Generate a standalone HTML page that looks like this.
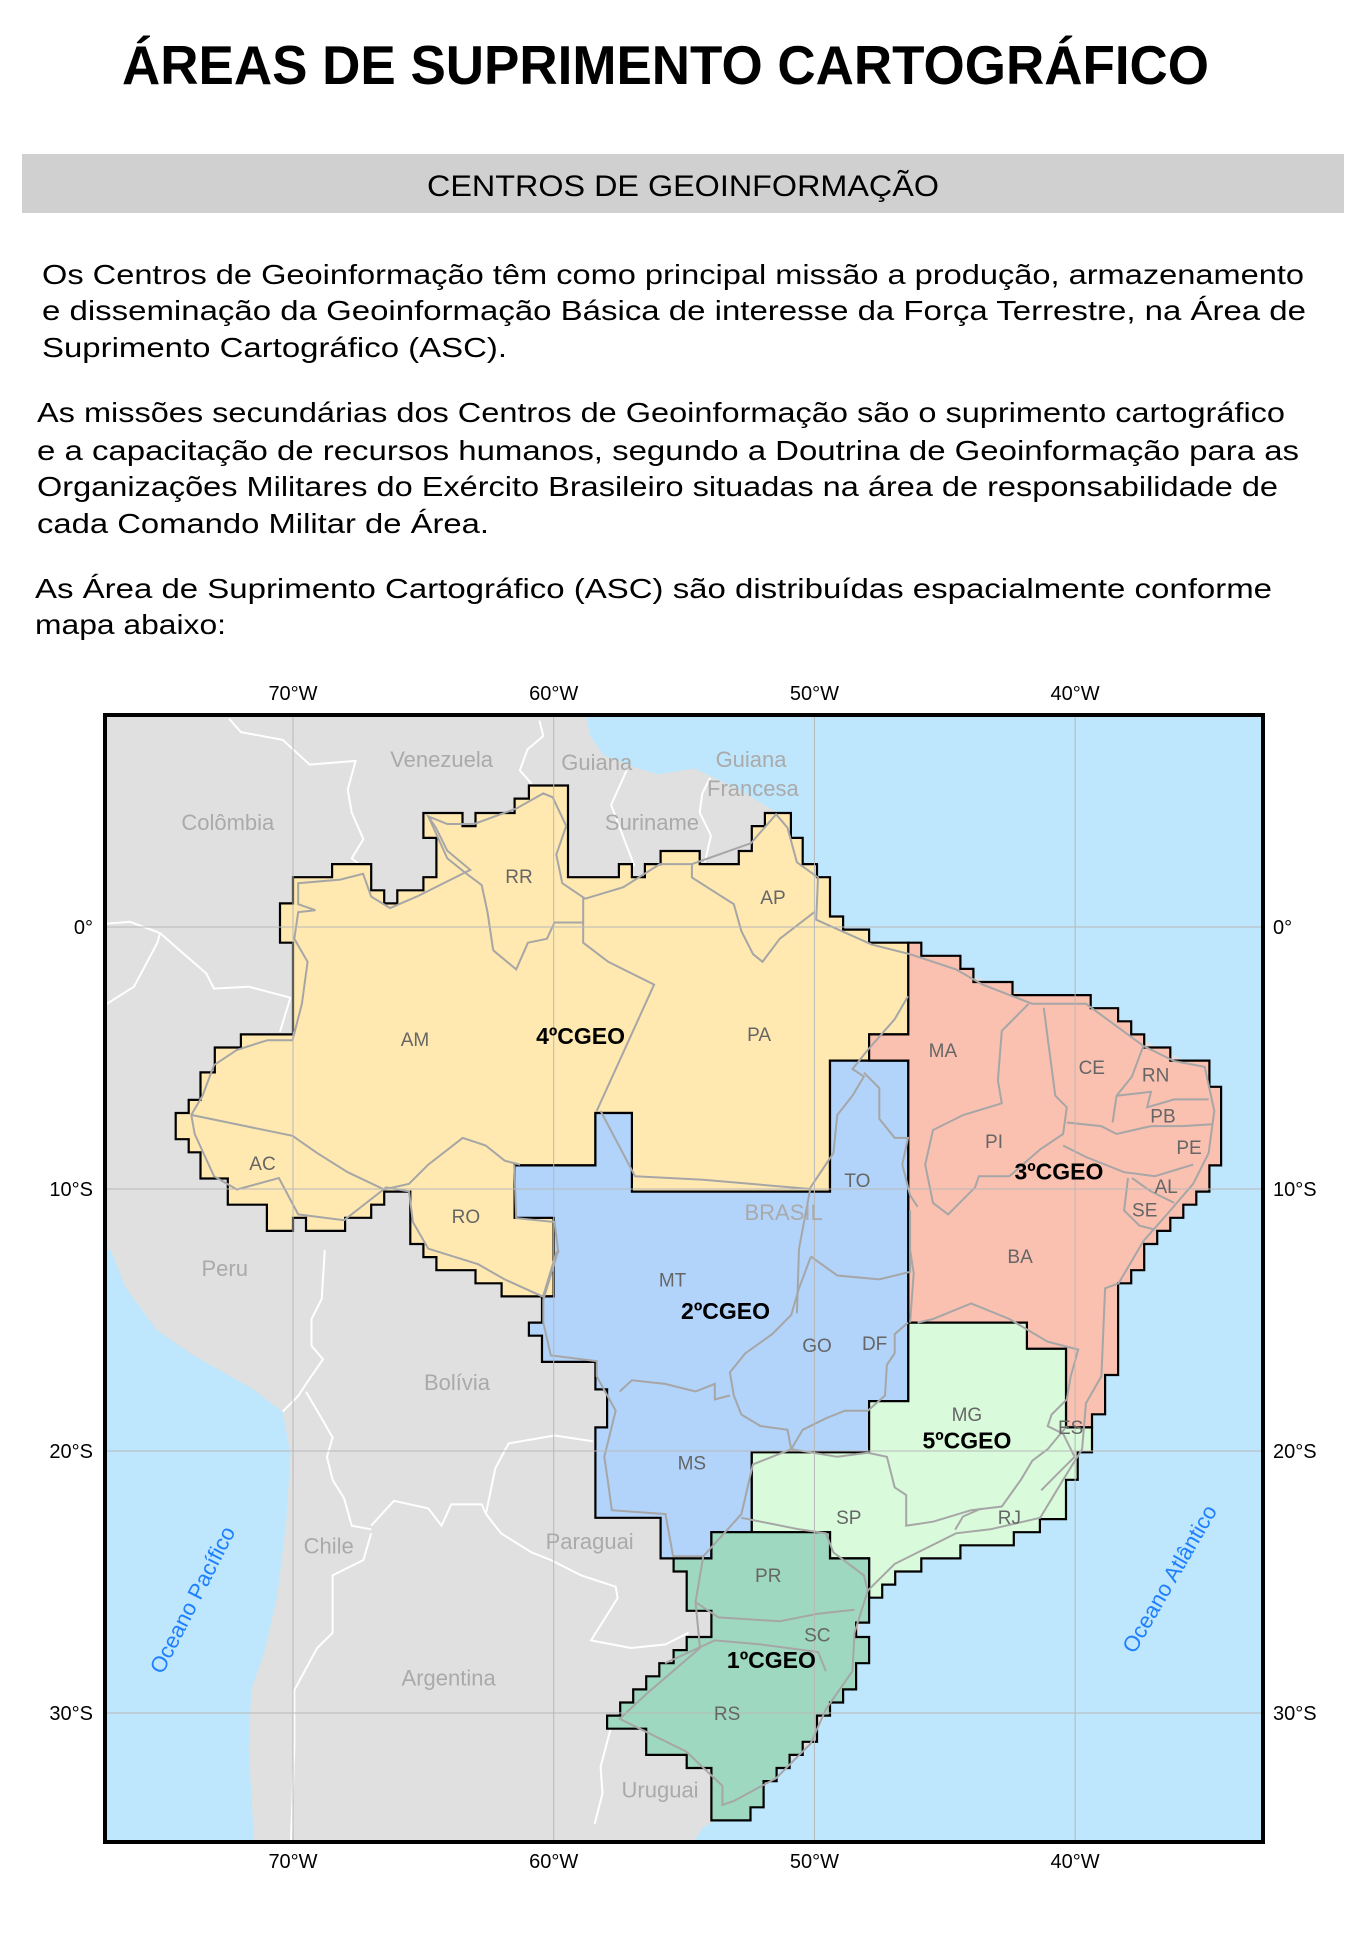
<!DOCTYPE html>
<html><head><meta charset="utf-8"><title>Áreas de Suprimento Cartográfico</title>
<style>html,body{margin:0;padding:0;background:#fff}svg{display:block}text{font-family:"Liberation Sans",Arial,sans-serif}</style>
</head><body>
<svg id="page" width="1360" height="1940" viewBox="0 0 1360 1940" xmlns="http://www.w3.org/2000/svg">
<text x="122" y="84" font-size="55" font-weight="bold" textLength="1087" lengthAdjust="spacingAndGlyphs">ÁREAS DE SUPRIMENTO CARTOGRÁFICO</text>
<rect x="22" y="154" width="1322" height="59" fill="#d0d0d0"/>
<text x="427" y="196" font-size="30" textLength="512" lengthAdjust="spacingAndGlyphs">CENTROS DE GEOINFORMAÇÃO</text>
<g font-size="28">
<text x="42" y="284" textLength="1262" lengthAdjust="spacingAndGlyphs">Os Centros de Geoinformação têm como principal missão a produção,  armazenamento</text>
<text x="42" y="320" textLength="1264" lengthAdjust="spacingAndGlyphs">e disseminação da Geoinformação Básica de interesse da Força Terrestre, na   Área  de</text>
<text x="42" y="357" textLength="465" lengthAdjust="spacingAndGlyphs">Suprimento Cartográfico  (ASC).</text>
</g>
<g font-size="28">
<text x="37" y="422" textLength="1248" lengthAdjust="spacingAndGlyphs">As  missões secundárias dos Centros de Geoinformação são o suprimento cartográfico</text>
<text x="37" y="460" textLength="1262" lengthAdjust="spacingAndGlyphs">e a capacitação de  recursos  humanos, segundo a Doutrina de  Geoinformação para as</text>
<text x="37" y="496" textLength="1241" lengthAdjust="spacingAndGlyphs">Organizações Militares do Exército Brasileiro  situadas na área de responsabilidade de</text>
<text x="37" y="533" textLength="452" lengthAdjust="spacingAndGlyphs">cada  Comando Militar de Área.</text>
</g>
<g font-size="28">
<text x="35" y="598" textLength="1237" lengthAdjust="spacingAndGlyphs">As  Área de Suprimento  Cartográfico (ASC)  são distribuídas espacialmente conforme</text>
<text x="35" y="634" textLength="191" lengthAdjust="spacingAndGlyphs">mapa abaixo:</text>
</g>
<defs><clipPath id="mapclip"><rect x="105" y="715" width="1158" height="1127"/></clipPath></defs>
<g id="map">
<g id="mapbody" clip-path="url(#mapclip)"></g>
<g id="maplabels"></g>
<rect x="105" y="715" width="1158" height="1127" fill="none" stroke="#000" stroke-width="4"/>
</g>
</svg>
<script>
const gridLons = [-70, -60, -50, -40];
const gridLats = [0, -10, -20, -30];
const lonTickLabels = ["70°W", "60°W", "50°W", "40°W"];
const latTickLabels = ["0°", "10°S", "20°S", "30°S"];

const region4 = [[-65.5,-10.1],[-65.5,-12.1],[-65.0,-12.1],[-65.0,-12.6],[-64.5,-12.6],[-64.5,-13.1],[-63.0,-13.1],[-63.0,-13.6],[-62.0,-13.6],[-62.0,-14.1],[-60.0,-14.1],[-60.0,-11.1],[-61.5,-11.1],[-61.5,-9.1],[-58.4,-9.1],[-58.4,-7.1],[-57.0,-7.1],[-57.0,-10.1],[-49.4,-10.1],[-49.4,-5.1],[-47.9,-5.1],[-47.9,-4.1],[-46.4,-4.1],[-46.4,-0.6],[-47.9,-0.6],[-47.9,-0.1],[-48.9,-0.1],[-48.9,0.4],[-49.4,0.4],[-49.4,1.9],[-49.9,1.9],[-49.9,2.4],[-50.45,2.4],[-50.45,3.4],[-50.9,3.4],[-50.9,4.35],[-51.9,4.35],[-51.9,3.85],[-52.4,3.85],[-52.4,2.9],[-52.9,2.9],[-52.9,2.4],[-54.4,2.4],[-54.4,2.9],[-55.9,2.9],[-55.9,2.4],[-56.5,2.4],[-56.5,1.9],[-57.0,1.9],[-57.0,2.4],[-57.5,2.4],[-57.5,1.9],[-59.45,1.9],[-59.45,5.4],[-60.95,5.4],[-60.95,4.9],[-61.5,4.9],[-61.5,4.35],[-63.0,4.35],[-63.0,3.85],[-63.5,3.85],[-63.5,4.35],[-65.0,4.35],[-65.0,3.4],[-64.5,3.4],[-64.5,1.9],[-65.0,1.9],[-65.0,1.4],[-66.0,1.4],[-66.0,0.9],[-66.5,0.9],[-66.5,1.4],[-67.0,1.4],[-67.0,2.4],[-68.5,2.4],[-68.5,1.9],[-70.0,1.9],[-70.0,0.9],[-70.5,0.9],[-70.5,-0.6],[-70.0,-0.6],[-70.0,-4.1],[-72.0,-4.1],[-72.0,-4.6],[-73.0,-4.6],[-73.0,-5.55],[-73.55,-5.55],[-73.55,-6.6],[-74.0,-6.6],[-74.0,-7.1],[-74.5,-7.1],[-74.5,-8.1],[-74.0,-8.1],[-74.0,-8.6],[-73.55,-8.6],[-73.55,-9.6],[-72.5,-9.6],[-72.5,-10.6],[-71.0,-10.6],[-71.0,-11.6],[-70.0,-11.6],[-70.0,-11.1],[-69.5,-11.1],[-69.5,-11.6],[-68.0,-11.6],[-68.0,-11.1],[-67.0,-11.1],[-67.0,-10.6],[-66.5,-10.6],[-66.5,-10.1]];
const region2 = [[-49.4,-5.1],[-46.4,-5.1],[-46.4,-18.1],[-47.9,-18.1],[-47.9,-20.05],[-52.4,-20.05],[-52.4,-23.1],[-53.95,-23.1],[-53.95,-24.1],[-55.9,-24.1],[-55.9,-22.55],[-58.4,-22.55],[-58.4,-19.1],[-57.95,-19.1],[-57.95,-17.65],[-58.4,-17.65],[-58.4,-16.6],[-60.45,-16.6],[-60.45,-15.6],[-60.95,-15.6],[-60.95,-15.1],[-60.45,-15.1],[-60.45,-14.1],[-60.0,-14.1],[-60.0,-11.1],[-61.5,-11.1],[-61.5,-9.1],[-58.4,-9.1],[-58.4,-7.1],[-57.0,-7.1],[-57.0,-10.1],[-49.4,-10.1]];
const region3 = [[-46.4,-0.6],[-45.9,-0.6],[-45.9,-1.1],[-44.4,-1.1],[-44.4,-1.6],[-43.9,-1.6],[-43.9,-2.1],[-42.4,-2.1],[-42.4,-2.6],[-39.4,-2.6],[-39.4,-3.1],[-38.35,-3.1],[-38.35,-3.6],[-37.85,-3.6],[-37.85,-4.1],[-37.35,-4.1],[-37.35,-4.6],[-36.35,-4.6],[-36.35,-5.1],[-34.85,-5.1],[-34.85,-6.1],[-34.4,-6.1],[-34.4,-9.1],[-34.85,-9.1],[-34.85,-10.1],[-35.35,-10.1],[-35.35,-10.6],[-35.85,-10.6],[-35.85,-11.1],[-36.35,-11.1],[-36.35,-11.6],[-36.85,-11.6],[-36.85,-12.1],[-37.35,-12.1],[-37.35,-13.1],[-37.85,-13.1],[-37.85,-13.6],[-38.35,-13.6],[-38.35,-17.1],[-38.85,-17.1],[-38.85,-18.6],[-39.35,-18.6],[-39.35,-19.1],[-40.35,-19.1],[-40.35,-16.1],[-41.85,-16.1],[-41.85,-15.1],[-46.4,-15.1],[-46.4,-5.1],[-47.9,-5.1],[-47.9,-4.1],[-46.4,-4.1]];
const region5 = [[-46.4,-15.1],[-41.85,-15.1],[-41.85,-16.1],[-40.35,-16.1],[-40.35,-19.1],[-39.35,-19.1],[-39.35,-20.05],[-39.9,-20.05],[-39.9,-21.1],[-40.35,-21.1],[-40.35,-22.6],[-41.35,-22.6],[-41.35,-23.1],[-42.35,-23.1],[-42.35,-23.6],[-44.4,-23.6],[-44.4,-24.1],[-45.9,-24.1],[-45.9,-24.6],[-46.9,-24.6],[-46.9,-25.1],[-47.4,-25.1],[-47.4,-25.6],[-47.9,-25.6],[-47.9,-24.1],[-49.4,-24.1],[-49.4,-23.1],[-52.4,-23.1],[-52.4,-20.05],[-47.9,-20.05],[-47.9,-18.1],[-46.4,-18.1]];
const region1 = [[-53.95,-23.1],[-49.4,-23.1],[-49.4,-24.1],[-47.9,-24.1],[-47.9,-26.55],[-48.4,-26.55],[-48.4,-27.1],[-47.9,-27.1],[-47.9,-28.1],[-48.4,-28.1],[-48.4,-29.1],[-48.9,-29.1],[-48.9,-29.6],[-49.4,-29.6],[-49.4,-30.1],[-49.9,-30.1],[-49.9,-31.1],[-50.45,-31.1],[-50.45,-31.6],[-50.95,-31.6],[-50.95,-32.1],[-51.45,-32.1],[-51.45,-32.6],[-51.95,-32.6],[-51.95,-33.6],[-52.45,-33.6],[-52.45,-34.1],[-53.95,-34.1],[-53.95,-32.1],[-54.9,-32.1],[-54.9,-31.6],[-56.45,-31.6],[-56.45,-30.6],[-57.95,-30.6],[-57.95,-30.1],[-57.45,-30.1],[-57.45,-29.6],[-56.95,-29.6],[-56.95,-29.1],[-56.45,-29.1],[-56.45,-28.6],[-55.95,-28.6],[-55.95,-28.1],[-55.4,-28.1],[-55.4,-27.6],[-54.9,-27.6],[-54.9,-27.1],[-53.95,-27.1],[-53.95,-26.1],[-54.9,-26.1],[-54.9,-24.6],[-55.4,-24.6],[-55.4,-24.1],[-53.95,-24.1]];

const landOutline = [[-78,9],[-58.8,9],[-58.8,8.2],[-58.6,7.3],[-58.1,6.56],[-56.9,6.1],[-56.0,5.83],[-54.6,6.05],[-52.9,5.25],[-51.4,4.34],[-50.2,1.5],[-49.5,-0.2],[-45,-1.5],[-38,-4],[-35,-5.5],[-35,-9],[-38.8,-14],[-39.5,-19],[-41,-22.5],[-45,-23.5],[-48,-25.5],[-48.6,-28.3],[-50.2,-31.2],[-53,-33.5],[-54.3,-34.4],[-55,-35.5],[-71.5,-35.5],[-71.5,-34.8],[-71.7,-31.3],[-71.6,-29.1],[-71.1,-27.7],[-70.6,-25.5],[-70.25,-22.6],[-70.1,-20.1],[-70.4,-18.5],[-71.6,-17.6],[-73.9,-16.3],[-75.2,-15.4],[-76.4,-13.8],[-77.0,-12.33],[-78,-12.2]];

const countryBorders = [
 [[-72.45,7.95],[-72.0,7.44],[-70.39,7.14],[-69.36,6.2],[-67.6,6.34],[-67.9,5.25],[-67.75,4.37],[-67.3,3.35],[-67.75,2.62],[-67.0,2.03]],
 [[-77.14,0.13],[-76.26,0.2],[-75.1,-0.23],[-74.35,-0.89],[-73.33,-1.77],[-73.03,-2.35],[-71.7,-2.28],[-70.1,-2.7],[-70.5,-4.0]],
 [[-77.14,-2.93],[-76.1,-2.28],[-75.2,-0.6],[-75.1,-0.23]],
 [[-60.55,7.88],[-60.4,7.29],[-61.0,6.78],[-61.3,5.98],[-60.85,5.47]],
 [[-57.2,5.98],[-57.8,4.66],[-57.3,3.35],[-56.9,2.33]],
 [[-54.0,5.7],[-54.3,5.1],[-54.4,4.37],[-53.97,3.49],[-54.2,2.47]],
 [[-68.78,-12.33],[-68.9,-14.2],[-69.29,-14.96],[-69.29,-15.98],[-68.85,-16.5],[-69.5,-17.44],[-69.8,-17.9],[-70.4,-18.5]],
 [[-69.5,-17.74],[-68.9,-18.76],[-68.48,-19.49],[-68.7,-20.22],[-68.48,-21.1],[-68.04,-21.8],[-67.75,-22.85],[-67.0,-22.99]],
 [[-67.0,-23.14],[-67.3,-24.16],[-68.48,-24.75],[-68.48,-26.94],[-69.07,-27.52],[-69.95,-29.13],[-69.95,-31.32],[-70.1,-35.5]],
 [[-67.0,-22.85],[-66.13,-21.9],[-64.81,-22.19],[-64.3,-22.85],[-63.93,-22.04],[-62.76,-22.04],[-62.6,-22.4]],
 [[-62.6,-22.4],[-62.24,-20.66],[-61.73,-19.71],[-59.97,-19.41],[-58.5,-19.63]],
 [[-62.6,-22.4],[-62.02,-23.14],[-60.85,-23.87],[-60.11,-24.16],[-58.94,-24.75],[-57.62,-25.18],[-57.55,-25.62],[-58.57,-27.23],[-57.03,-27.52],[-55.71,-27.38],[-54.83,-26.94]],
 [[-57.77,-30.44],[-58.2,-32.05],[-58.13,-33.07],[-58.43,-34.24]]
];

const brazilBorder = [[-73.9,-7.17],[-73.47,-6.44],[-73.03,-5.27],[-72.15,-4.69],[-70.98,-4.32],[-70.02,-4.32],[-69.66,-2.93],[-69.44,-1.33],[-69.95,-0.45],[-69.8,0.57],[-69.14,0.64],[-69.8,0.87],[-69.8,1.67],[-68.19,1.81],[-67.31,2.03],[-67.0,1.16],[-66.28,0.72],[-65.25,1.16],[-64.08,1.74],[-63.2,2.18],[-64.08,2.91],[-64.52,3.79],[-64.81,4.22],[-64.08,3.93],[-63.05,3.93],[-61.44,4.52],[-60.4,5.1],[-60.04,4.95],[-59.52,3.86],[-59.9,2.76],[-59.67,1.67],[-58.79,1.08],[-57.33,1.52],[-55.93,2.4],[-54.7,2.4],[-52.43,3.2],[-51.47,4.3],[-51.03,3.79],[-50.67,2.47],[-49.86,1.89],[-49.93,0.28],[-47.8,-0.67],[-46.33,-1.04],[-44.57,-1.62],[-43.55,-2.2],[-41.64,-2.93],[-39.58,-2.93],[-37.38,-4.54],[-36.2,-5.12],[-35.03,-5.34],[-34.66,-7.02],[-34.88,-8.63],[-35.47,-9.8],[-36.35,-10.82],[-37.38,-11.99],[-38.33,-13.6],[-38.85,-13.79],[-38.99,-17.15],[-39.58,-18.17],[-39.73,-19.93],[-40.46,-21.1],[-41.34,-22.55],[-43.25,-22.99],[-44.57,-23.14],[-46.92,-24.31],[-47.95,-25.33],[-48.46,-26.94],[-48.54,-28.4],[-49.56,-29.86],[-50.15,-31.17],[-51.47,-32.49],[-53.09,-33.36],[-53.53,-33.51],[-53.53,-32.78],[-54.92,-31.47],[-57.47,-30.22],[-56.44,-29.27],[-54.39,-27.52],[-54.56,-25.77],[-54.26,-24.02],[-55.42,-24.02],[-55.71,-22.41],[-57.77,-22.26],[-57.91,-21.24],[-58.06,-20.22],[-57.62,-18.46],[-58.35,-17.15],[-58.35,-16.57],[-60.11,-16.35],[-60.4,-15.1],[-60.4,-14.23],[-59.82,-12.33],[-59.9,-12.43],[-60.41,-14.11],[-61.88,-13.45],[-62.9,-12.87],[-64.81,-12.28],[-65.4,-11.26],[-65.55,-10.09],[-66.43,-9.94],[-68.04,-11.19],[-69.8,-10.97],[-70.54,-9.58],[-72.15,-10.02],[-73.03,-9.51],[-73.77,-7.9],[-73.9,-7.17]];

const stateBorders = [
 [[-58.87,1.16],[-58.87,-0.6],[-57.91,-1.33],[-56.15,-2.2],[-58.35,-7.02]],
 [[-58.2,-7.02],[-56.88,-9.51],[-54.27,-9.65],[-50.15,-10.0]],
 [[-62.32,-0.89],[-61.44,-1.62],[-60.99,-0.6],[-60.26,-0.45],[-59.97,0.17],[-58.87,0.17]],
 [[-64.81,4.22],[-64.08,2.62],[-63.34,2.03],[-62.76,1.6],[-62.54,0.57],[-62.32,-0.89]],
 [[-73.91,-7.17],[-70.02,-7.97],[-69.07,-8.63],[-67.9,-9.36],[-66.5,-10.02]],
 [[-66.5,-10.02],[-65.55,-9.8],[-64.81,-9.07],[-63.49,-8.05],[-62.61,-8.34],[-61.88,-8.92],[-61.29,-9.07]],
 [[-61.51,-9.07],[-61.44,-11.11],[-59.97,-11.26],[-59.82,-12.43]],
 [[-54.7,2.4],[-54.7,1.89],[-53.09,0.87],[-52.8,-0.16],[-52.35,-1.04],[-51.99,-1.33],[-51.33,-0.45],[-50.0,0.57]],
 [[-46.41,-2.64],[-46.92,-3.52],[-47.95,-4.69],[-48.54,-5.42],[-48.1,-5.71],[-48.54,-6.44],[-49.12,-7.17],[-49.27,-8.63],[-50.15,-9.94],[-50.59,-12.28],[-50.67,-14.74]],
 [[-48.1,-5.56],[-47.51,-6.15],[-47.51,-7.32],[-46.92,-8.05],[-46.41,-8.05],[-46.63,-9.07],[-46.33,-10.24],[-46.04,-10.68]],
 [[-46.33,-10.82],[-46.33,-13.16],[-47.51,-13.45],[-49.12,-13.3],[-50.15,-12.57]],
 [[-41.78,-2.93],[-42.81,-3.96],[-42.96,-5.86],[-42.81,-6.73],[-44.28,-7.17],[-45.45,-7.75],[-45.75,-9.07],[-45.45,-10.53],[-44.87,-10.97],[-43.84,-9.94],[-43.69,-9.51],[-42.52,-9.51]],
 [[-41.2,-3.08],[-41.05,-4.25],[-40.76,-6.44],[-40.32,-6.88],[-40.46,-7.9],[-41.34,-8.49],[-42.52,-9.51]],
 [[-40.32,-7.46],[-39.0,-7.6],[-38.41,-7.9],[-37.09,-7.6],[-35.91,-7.6],[-34.74,-7.53]],
 [[-40.46,-8.34],[-39.58,-8.78],[-38.12,-9.36],[-36.94,-9.51],[-35.47,-9.07]],
 [[-37.82,-9.58],[-37.09,-10.09],[-36.2,-10.53]],
 [[-37.97,-9.58],[-38.12,-10.82],[-37.53,-11.4],[-36.94,-11.55]],
 [[-37.38,-4.54],[-37.82,-5.71],[-38.41,-6.44],[-38.56,-7.46]],
 [[-38.41,-6.44],[-37.09,-6.29],[-37.24,-6.88],[-36.2,-6.58],[-34.88,-6.58]],
 [[-46.04,-15.1],[-45.45,-14.96],[-43.99,-14.37],[-42.52,-14.96],[-41.05,-15.83],[-39.88,-16.13],[-40.17,-17.15],[-40.32,-18.03]],
 [[-46.33,-12.33],[-46.19,-13.21],[-46.33,-15.1]],
 [[-40.32,-18.03],[-40.9,-18.61],[-41.05,-19.05],[-40.46,-19.34],[-40.02,-20.22],[-40.8,-21.0],[-41.3,-21.5]],
 [[-46.41,-15.1],[-46.92,-15.54],[-46.92,-16.27],[-47.22,-16.71],[-47.29,-17.88],[-47.95,-18.46],[-48.83,-18.46],[-49.56,-18.75],[-50.45,-19.19],[-50.89,-19.93]],
 [[-50.89,-19.93],[-51.03,-19.19],[-52.06,-19.05],[-52.8,-18.61],[-53.09,-17.88],[-53.24,-17.0],[-52.65,-16.27],[-51.62,-15.54],[-50.89,-14.81],[-50.59,-13.79],[-50.15,-12.62]],
 [[-53.24,-17.88],[-53.82,-18.03],[-53.82,-17.44],[-54.56,-17.73],[-55.73,-17.44],[-57.0,-17.3],[-57.47,-17.73]],
 [[-50.89,-19.93],[-52.36,-20.51],[-52.8,-22.41],[-54.26,-24.02]],
 [[-50.89,-19.93],[-49.12,-20.22],[-47.95,-20.07],[-47.22,-20.22],[-46.92,-21.39],[-46.48,-21.68],[-46.48,-22.85],[-45.45,-22.7],[-43.99,-22.26],[-42.81,-22.12],[-42.08,-21.1],[-41.64,-20.37],[-41.05,-19.93],[-40.32,-19.05]],
 [[-44.6,-23.0],[-44.3,-22.5],[-43.6,-22.2]],
 [[-52.8,-22.55],[-50.59,-22.99],[-49.56,-23.14],[-49.27,-23.87],[-48.1,-24.75],[-47.95,-25.33]],
 [[-54.56,-25.77],[-53.68,-26.35],[-51.33,-26.5],[-49.86,-26.21],[-48.46,-26.06]],
 [[-55.73,-28.1],[-53.82,-27.23],[-52.06,-27.38],[-49.86,-27.67],[-49.56,-28.4]]
];

const stateNames = ["RR","AM","AC","RO","AP","PA","MA","CE","RN","PB","PI","PE","AL","TO","SE","BA","MT","GO","DF","MG","ES","MS","SP","RJ","PR","SC","RS"];
const stateLon = [-61.33,-65.32,-71.17,-63.37,-51.59,-52.12,-45.07,-39.36,-36.91,-36.63,-43.11,-35.63,-36.51,-48.35,-37.33,-42.11,-55.44,-49.9,-47.69,-44.15,-40.17,-54.7,-48.68,-42.52,-51.77,-49.89,-53.35];
const stateLat = [1.95,-4.27,-9.0,-11.03,1.15,-4.08,-4.69,-5.34,-5.63,-7.2,-8.17,-8.4,-9.89,-9.66,-10.79,-12.56,-13.45,-15.95,-15.88,-18.58,-19.08,-20.44,-22.51,-22.51,-24.74,-27.01,-30.0];
const cgeoNames = ["4ºCGEO","3ºCGEO","2ºCGEO","5ºCGEO","1ºCGEO"];
const cgeoLon = [-58.97,-40.62,-53.41,-44.15,-51.65];
const cgeoLat = [-4.16,-9.33,-14.66,-19.6,-27.98];
const countryNames = ["Venezuela","Guiana","Colômbia","Suriname","Guiana","Francesa","Peru","Bolívia","Chile","Paraguai","Argentina","Uruguai","BRASIL"];
const countryLon = [-64.3,-58.35,-72.5,-56.23,-52.43,-52.36,-72.62,-63.71,-68.63,-58.62,-64.03,-55.92,-51.18];
const countryLat = [6.41,6.3,4.0,4.0,6.41,5.31,-13.02,-17.37,-23.6,-23.43,-28.65,-32.92,-10.88];
const oceanNames = ["Oceano Pacífico","Oceano Atlântico"];
const oceanLon = [-73.84,-36.36];
const oceanLat = [-25.69,-24.89];
const oceanAngle = [-63,-60];

const NS = "http://www.w3.org/2000/svg";
function xOf(lon){ return 293 + (lon + 70) * 26.07; }
function yOf(lat){ return 927 - lat * 26.2; }
function pathOf(pts, close){
  let d = pts.map((p,i)=>(i?"L":"M")+xOf(p[0]).toFixed(1)+","+yOf(p[1]).toFixed(1)).join(" ");
  return close ? d+" Z" : d;
}
const body = document.getElementById("mapbody");
const lab = document.getElementById("maplabels");
function mk(tag, parent, attrs){
  const el = document.createElementNS(NS, tag);
  for (const k in attrs) el.setAttribute(k, attrs[k]);
  parent.appendChild(el);
  return el;
}

let el = mk("rect", body, {x:103, y:713, width:1162, height:1131, fill:"#bee6fc"});



el = mk("path", body, {d:pathOf(landOutline,true), fill:"#e0e0e0"});



countryBorders.forEach(function(line){
  const b = mk("path", body, {d:pathOf(line,false), fill:"none", stroke:"#fff", "stroke-width":2});
  
  
});

const regions = [[region4,"#ffe9b0","region-4cgeo"],[region2,"#b2d3fa","region-2cgeo"],[region3,"#fac1b1","region-3cgeo"],[region5,"#d9fbdc","region-5cgeo"],[region1,"#9ed8c1","region-1cgeo"]];
regions.forEach(function(r){
  const p = mk("path", body, {d:pathOf(r[0],true), fill:r[1], stroke:"#000", "stroke-width":2.2, "stroke-linejoin":"miter"});
  
  
});

el = mk("path", body, {d:pathOf(brazilBorder,true), fill:"none", stroke:"#a6a6a6", "stroke-width":2});


stateBorders.forEach(function(line){
  const s = mk("path", body, {d:pathOf(line,false), fill:"none", stroke:"#a6a6a6", "stroke-width":2});
  
  
});

gridLons.forEach(function(lon, i){
  const g = mk("line", body, {x1:xOf(lon), x2:xOf(lon), y1:713, y2:1844, stroke:"#b8b8b8", "stroke-width":1});
  
  
  const t1 = mk("text", lab, {x:xOf(lon), y:700, "text-anchor":"middle", "font-size":20, fill:"#000"});
  t1.textContent = lonTickLabels[i];
  
  
  const t2 = mk("text", lab, {x:xOf(lon), y:1868, "text-anchor":"middle", "font-size":20, fill:"#000"});
  t2.textContent = lonTickLabels[i];
  
  
});
gridLats.forEach(function(lat, i){
  const g = mk("line", body, {x1:103, x2:1265, y1:yOf(lat), y2:yOf(lat), stroke:"#b8b8b8", "stroke-width":1});
  
  
  const t1 = mk("text", lab, {x:93, y:yOf(lat)+7, "text-anchor":"end", "font-size":20, fill:"#000"});
  t1.textContent = latTickLabels[i];
  
  
  const t2 = mk("text", lab, {x:1273, y:yOf(lat)+7, "text-anchor":"start", "font-size":20, fill:"#000"});
  t2.textContent = latTickLabels[i];
  
  
});

countryNames.forEach(function(n, i){
  const t = mk("text", lab, {x:xOf(countryLon[i]), y:yOf(countryLat[i])+8, "text-anchor":"middle", "font-size":22, fill:"#aaaaaa"});
  t.textContent = n;
  
  
});
stateNames.forEach(function(n, i){
  const t = mk("text", lab, {x:xOf(stateLon[i]), y:yOf(stateLat[i])+7, "text-anchor":"middle", "font-size":19, fill:"#666"});
  t.textContent = n;
  
  
});
cgeoNames.forEach(function(n, i){
  const t = mk("text", lab, {x:xOf(cgeoLon[i]), y:yOf(cgeoLat[i])+8, "text-anchor":"middle", "font-size":23, "font-weight":"bold", fill:"#000"});
  t.textContent = n;
  
  
});
oceanNames.forEach(function(n, i){
  const cx = xOf(oceanLon[i]), cy = yOf(oceanLat[i]);
  const t = mk("text", lab, {x:cx, y:cy+7, "text-anchor":"middle", "font-size":22, fill:"#1e7fff", transform:"rotate("+oceanAngle[i]+" "+cx+" "+cy+")"});
  t.textContent = n;
  
  
});
</script>
</body></html>
